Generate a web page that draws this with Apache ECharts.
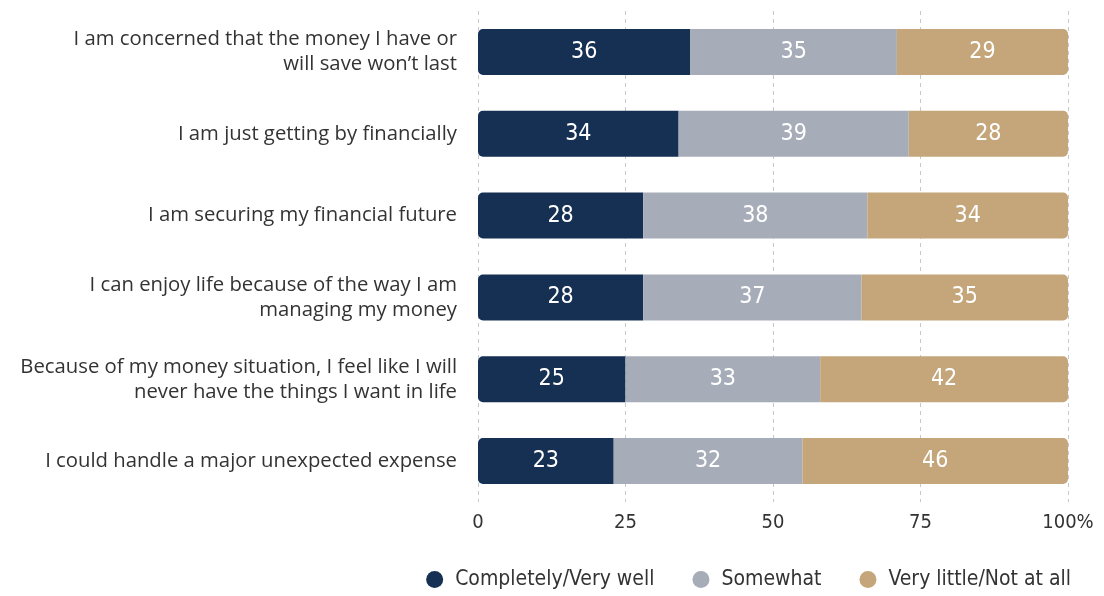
<!DOCTYPE html>
<html><head><meta charset="utf-8">
<script src="https://cdn.jsdelivr.net/npm/echarts@6/dist/echarts.min.js"></script>
<style>html,body{margin:0;padding:0;background:#fff}#c{width:1104px;height:596px}</style>
</head><body><div id="c"></div>
<script>
const categories = [
  "I am concerned that the money I have or\nwill save won\u2019t last",
  "I am just getting by financially",
  "I am securing my financial future",
  "I can enjoy life because of the way I am\nmanaging my money",
  "Because of my money situation, I feel like I will\nnever have the things I want in life",
  "I could handle a major unexpected expense"
];
const seriesNames = ["Completely/Very well", "Somewhat", "Very little/Not at all"];
const completely = [36, 34, 28, 28, 25, 23];
const somewhat = [35, 39, 38, 37, 33, 32];
const veryLittle = [29, 28, 34, 35, 42, 46];
const xTicks = [0, 25, 50, 75, 100];

const colors = ["#163054", "#a7adb8", "#c4a67a"];
const font = "Open Sans";
const narrow = "'DejaVu Sans Condensed', Roboto";
const chart = echarts.init(document.getElementById('c'));
const data = [completely, somewhat, veryLittle];
const radii = [[5,0,0,5],[0,0,0,0],[0,5,5,0]];
chart.setOption({
  animation: false,
  grid: { left: 478, right: 36, top: 11, bottom: 94, containLabel: false },
  xAxis: {
    type: 'value', min: 0, max: 100, interval: 25,
    axisLine: { show: false }, axisTick: { show: false },
    splitLine: { show: true, lineStyle: { type: [4, 4], color: '#c8c8c8', width: 1 } },
    axisLabel: { fontFamily: narrow, fontSize: 20, color: '#333', margin: 11,
      formatter: v => v === 100 ? '100%' : String(v) }
  },
  yAxis: {
    type: 'category', data: categories, inverse: true,
    axisLine: { show: false }, axisTick: { show: false },
    axisLabel: { fontFamily: font, fontSize: 20.3, color: '#333', margin: 21, lineHeight: 25, align: 'right' }
  },
  legend: {
    bottom: 1, right: 28, itemGap: 38, icon: 'circle', itemWidth: 17, itemHeight: 17,
    textStyle: { fontFamily: narrow, fontSize: 21, color: '#333', padding: [0, 0, 0, 7] },
    data: seriesNames
  },
  series: seriesNames.map((n, i) => ({
    name: n, type: 'bar', stack: 'total', barWidth: 46, clip: true,
    data: data[i],
    itemStyle: { color: colors[i], borderRadius: radii[i] },
    label: { show: true, position: 'inside', color: '#fff', fontFamily: narrow, fontSize: 23 }
  }))
});
</script></body></html>
